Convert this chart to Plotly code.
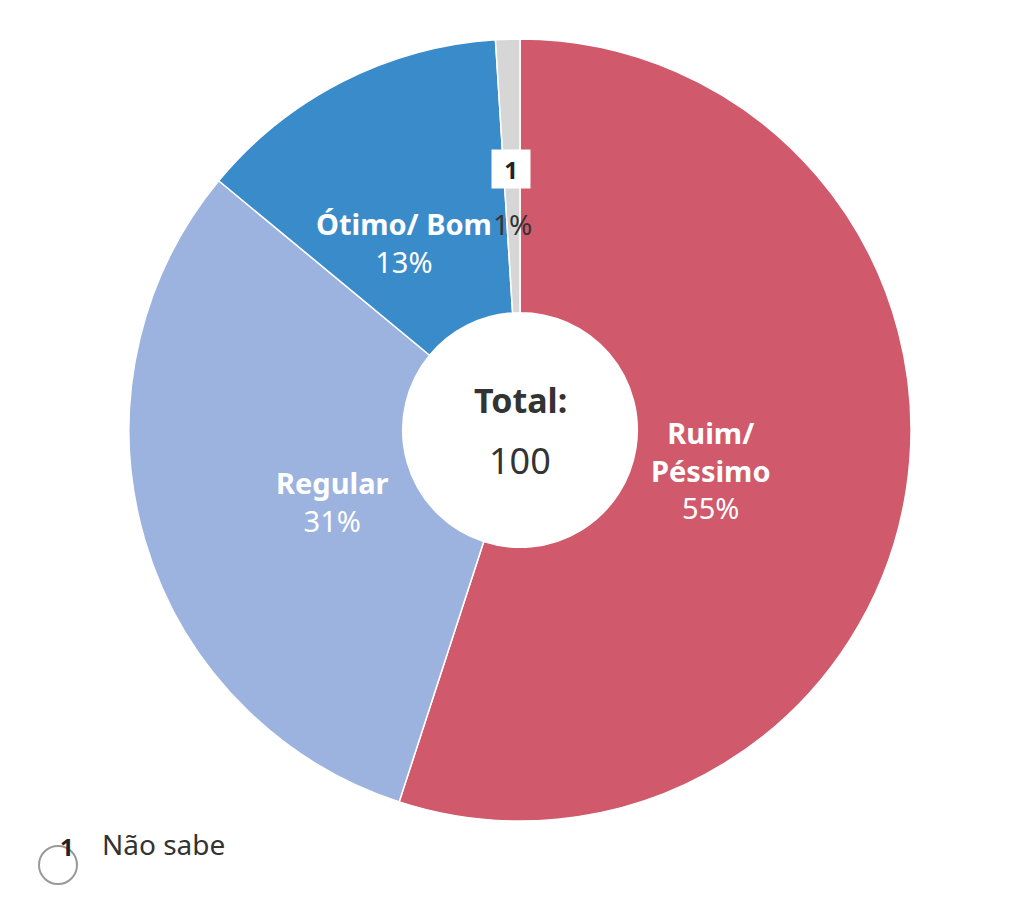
import math
import plotly.graph_objects as go

labels = ["Ruim/<br>Péssimo", "Regular", "Ótimo/ Bom", "Não sabe"]
values = [55, 31, 13, 1]
colors = ["#d0596b", "#9bb3de", "#3a8bc9", "#d6d6d6"]
total = 100

W, H = 1024, 897
cx, cy, R = 512, 422, 391

fig = go.Figure(go.Pie(
    labels=labels, values=values, sort=False, direction="clockwise", rotation=0,
    hole=0.30, marker=dict(colors=colors, line=dict(color="white", width=1.5)),
    textinfo="none", showlegend=False,
    domain=dict(x=[(cx - R) / W, (cx + R) / W], y=[1 - (cy + R) / H, 1 - (cy - R) / H]),
))

def px(x, y):
    return x / W, 1 - y / H

ann = []
cum = 0
font = "Noto Sans"
for i, (lab, v) in enumerate(zip(labels, values)):
    mid = (cum + v / 2) / sum(values) * 2 * math.pi
    cum += v
    if lab == "Não sabe":
        r = 0.58 * R
        x, y = cx + r * math.sin(mid), cy - r * math.cos(mid)
        ax, ay = px(x, y)
        ann.append(dict(x=ax, y=ay, text=f"{v}%", showarrow=False,
                        font=dict(family=font, size=28, color="#333")))
        r2 = 0.72 * R
        x2, y2 = cx + r2 * math.sin(mid), cy - r2 * math.cos(mid)
        bx, by = px(x2, y2)
        ann.append(dict(x=bx, y=by, text="<b>1</b>", showarrow=False,
                        font=dict(family=font, size=24, color="#222"),
                        bgcolor="white", borderpad=4, width=30, height=30))
        continue
    r = 0.655 * R
    x, y = cx + r * math.sin(mid), cy - r * math.cos(mid)
    ax, ay = px(x, y)
    ann.append(dict(x=ax, y=ay, text=f"<b>{lab}</b><br>{v}%", showarrow=False,
                    font=dict(family=font, size=29, color="white")))

ann.append(dict(x=0.5, y=1 - 392 / H, text="<b>Total:</b>", showarrow=False,
                font=dict(family=font, size=34, color="#333")))
ann.append(dict(x=0.5, y=1 - 452 / H, text=str(total), showarrow=False,
                font=dict(family=font, size=36, color="#333")))
ann.append(dict(x=50 / W, y=1 - 857 / H, text="<b>1</b>", showarrow=False,
                font=dict(family=font, size=24, color="#222")))
ann.append(dict(x=92 / W, y=1 - 857 / H, text="Não sabe", showarrow=False, xanchor="left",
                font=dict(family=font, size=28, color="#333")))

fig.update_layout(
    width=W, height=H, margin=dict(l=0, r=0, t=0, b=0),
    paper_bgcolor="white", annotations=ann,
    shapes=[dict(type="circle", xref="paper", yref="paper",
                 x0=31 / W, x1=69 / W, y0=1 - 876 / H, y1=1 - 838 / H,
                 line=dict(color="#999", width=2))],
)
fig.write_html("out.html")
